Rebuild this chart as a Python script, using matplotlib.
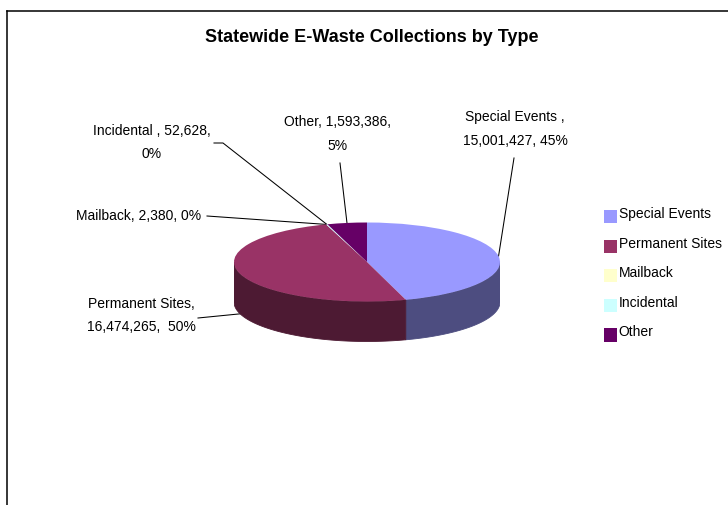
import numpy as np
import matplotlib
matplotlib.use('Agg')
import matplotlib.pyplot as plt
from matplotlib.patches import Patch, Rectangle
from matplotlib.legend_handler import HandlerPatch

# ---------------- data ----------------
categories = ['Special Events', 'Permanent Sites', 'Mailback', 'Incidental', 'Other']
values = [15001427, 16474265, 2380, 52628, 1593386]
top_colors = ['#9999FF', '#993366', '#FFFFCC', '#CCFFFF', '#660066']
side_colors = ['#4D4D80', '#4D1A33', '#80806A', '#6A8080', '#330033']
label_templates = ['{c} ,\n{v}, {p}', '{c},\n{v},  {p}', '{c}, {v}, {p}',
                   '{c} , {v},\n{p}', '{c}, {v},\n{p}']
title = 'Statewide E-Waste Collections by Type'

plt.rcParams['font.family'] = ['Liberation Sans', 'DejaVu Sans']

W, H = 728, 505
fig = plt.figure(figsize=(W / 100, H / 100), dpi=100)
fig.patch.set_facecolor('white')

# overlay axes in pixel coordinates (y down)
ov = fig.add_axes([0, 0, 1, 1])
ov.set_xlim(0, W)
ov.set_ylim(H, 0)
ov.axis('off')

# chart-area border (runs off right & bottom)
ov.plot([7, W + 5], [11, 11], color='black', lw=1.1, solid_capstyle='projecting')
ov.plot([7, 7], [11, H + 5], color='black', lw=1.1, solid_capstyle='projecting')

ov.text(372, 38, title, ha='center', va='center', fontsize=13, fontweight='bold')

# ---------------- pie geometry ----------------
cx, cy, a, b, depth = 367, 262, 133, 39.5, 40
D = depth / b

vals = np.array(values, dtype=float)
frac = vals / vals.sum()
cum = np.concatenate([[0], np.cumsum(frac)])
theta_start = 90 - 360 * cum[:-1]
theta_end = 90 - 360 * cum[1:]
theta_mid = (theta_start + theta_end) / 2

pie_ax = fig.add_axes([(cx - a) / W, (H - (cy + b + depth)) / H,
                       2 * a / W, (2 * b + depth) / H])

# side walls (only the front half is visible)
for i in range(len(values)):
    hi, lo = theta_start[i], theta_end[i]
    for f0, f1 in [(-180, 0), (-540, -360)]:
        s = max(lo, f0)
        e = min(hi, f1)
        if e > s:
            t = np.radians(np.linspace(s, e, 120))
            xs = np.concatenate([np.cos(t), np.cos(t[::-1])])
            ys = np.concatenate([np.sin(t), np.sin(t[::-1]) - D])
            pie_ax.fill(xs, ys, facecolor=side_colors[i],
                        edgecolor=side_colors[i], lw=0.6)

pie_ax.pie(values, colors=top_colors, startangle=90, counterclock=False,
           radius=1, center=(0, 0), wedgeprops=dict(linewidth=0))
pie_ax.set_aspect('auto')
pie_ax.set_xlim(-1, 1)
pie_ax.set_ylim(-1 - D, 1)
pie_ax.axis('off')

# ---------------- data labels with leader lines ----------------
label_pos = [(515, 129), (141, 315.5), (138.5, 216), (152, 142.5), (338, 134)]
leader_start = [[(514, 158)], [(198, 318)], [(207, 216)],
                [(214, 143), (223, 143)], [(340, 163)]]

for i, cat in enumerate(categories):
    pct = f'{round(frac[i] * 100):.0f}%'
    txt = label_templates[i].format(c=cat, v=f'{values[i]:,}', p=pct)
    x, y = label_pos[i]
    ov.text(x, y, txt, ha='center', va='center', fontsize=10, linespacing=1.85)
    t = np.radians(theta_mid[i])
    ex = cx + a * np.cos(t)
    ey = cy - b * np.sin(t) + (depth if np.sin(t) < 0 else 0)
    pts = leader_start[i] + [(ex, ey)]
    ov.plot([p[0] for p in pts], [p[1] for p in pts], color='black', lw=0.75)

# ---------------- legend ----------------
def low_square(legend, orig_handle, xdescent, ydescent, width, height, fontsize):
    return Rectangle((-xdescent, -ydescent - 3.0), width, width)

handles = [Patch(facecolor=c, edgecolor='none') for c in top_colors]
ov.legend(handles, categories, loc='upper left', bbox_to_anchor=(604, 207),
          bbox_transform=ov.transData, frameon=False, fontsize=10,
          handlelength=0.95, handleheight=0.95, handletextpad=0.1,
          labelspacing=1.12, borderpad=0, borderaxespad=0,
          handler_map={Patch: HandlerPatch(patch_func=low_square)})

fig.savefig('out.png', dpi=100, facecolor='white')
